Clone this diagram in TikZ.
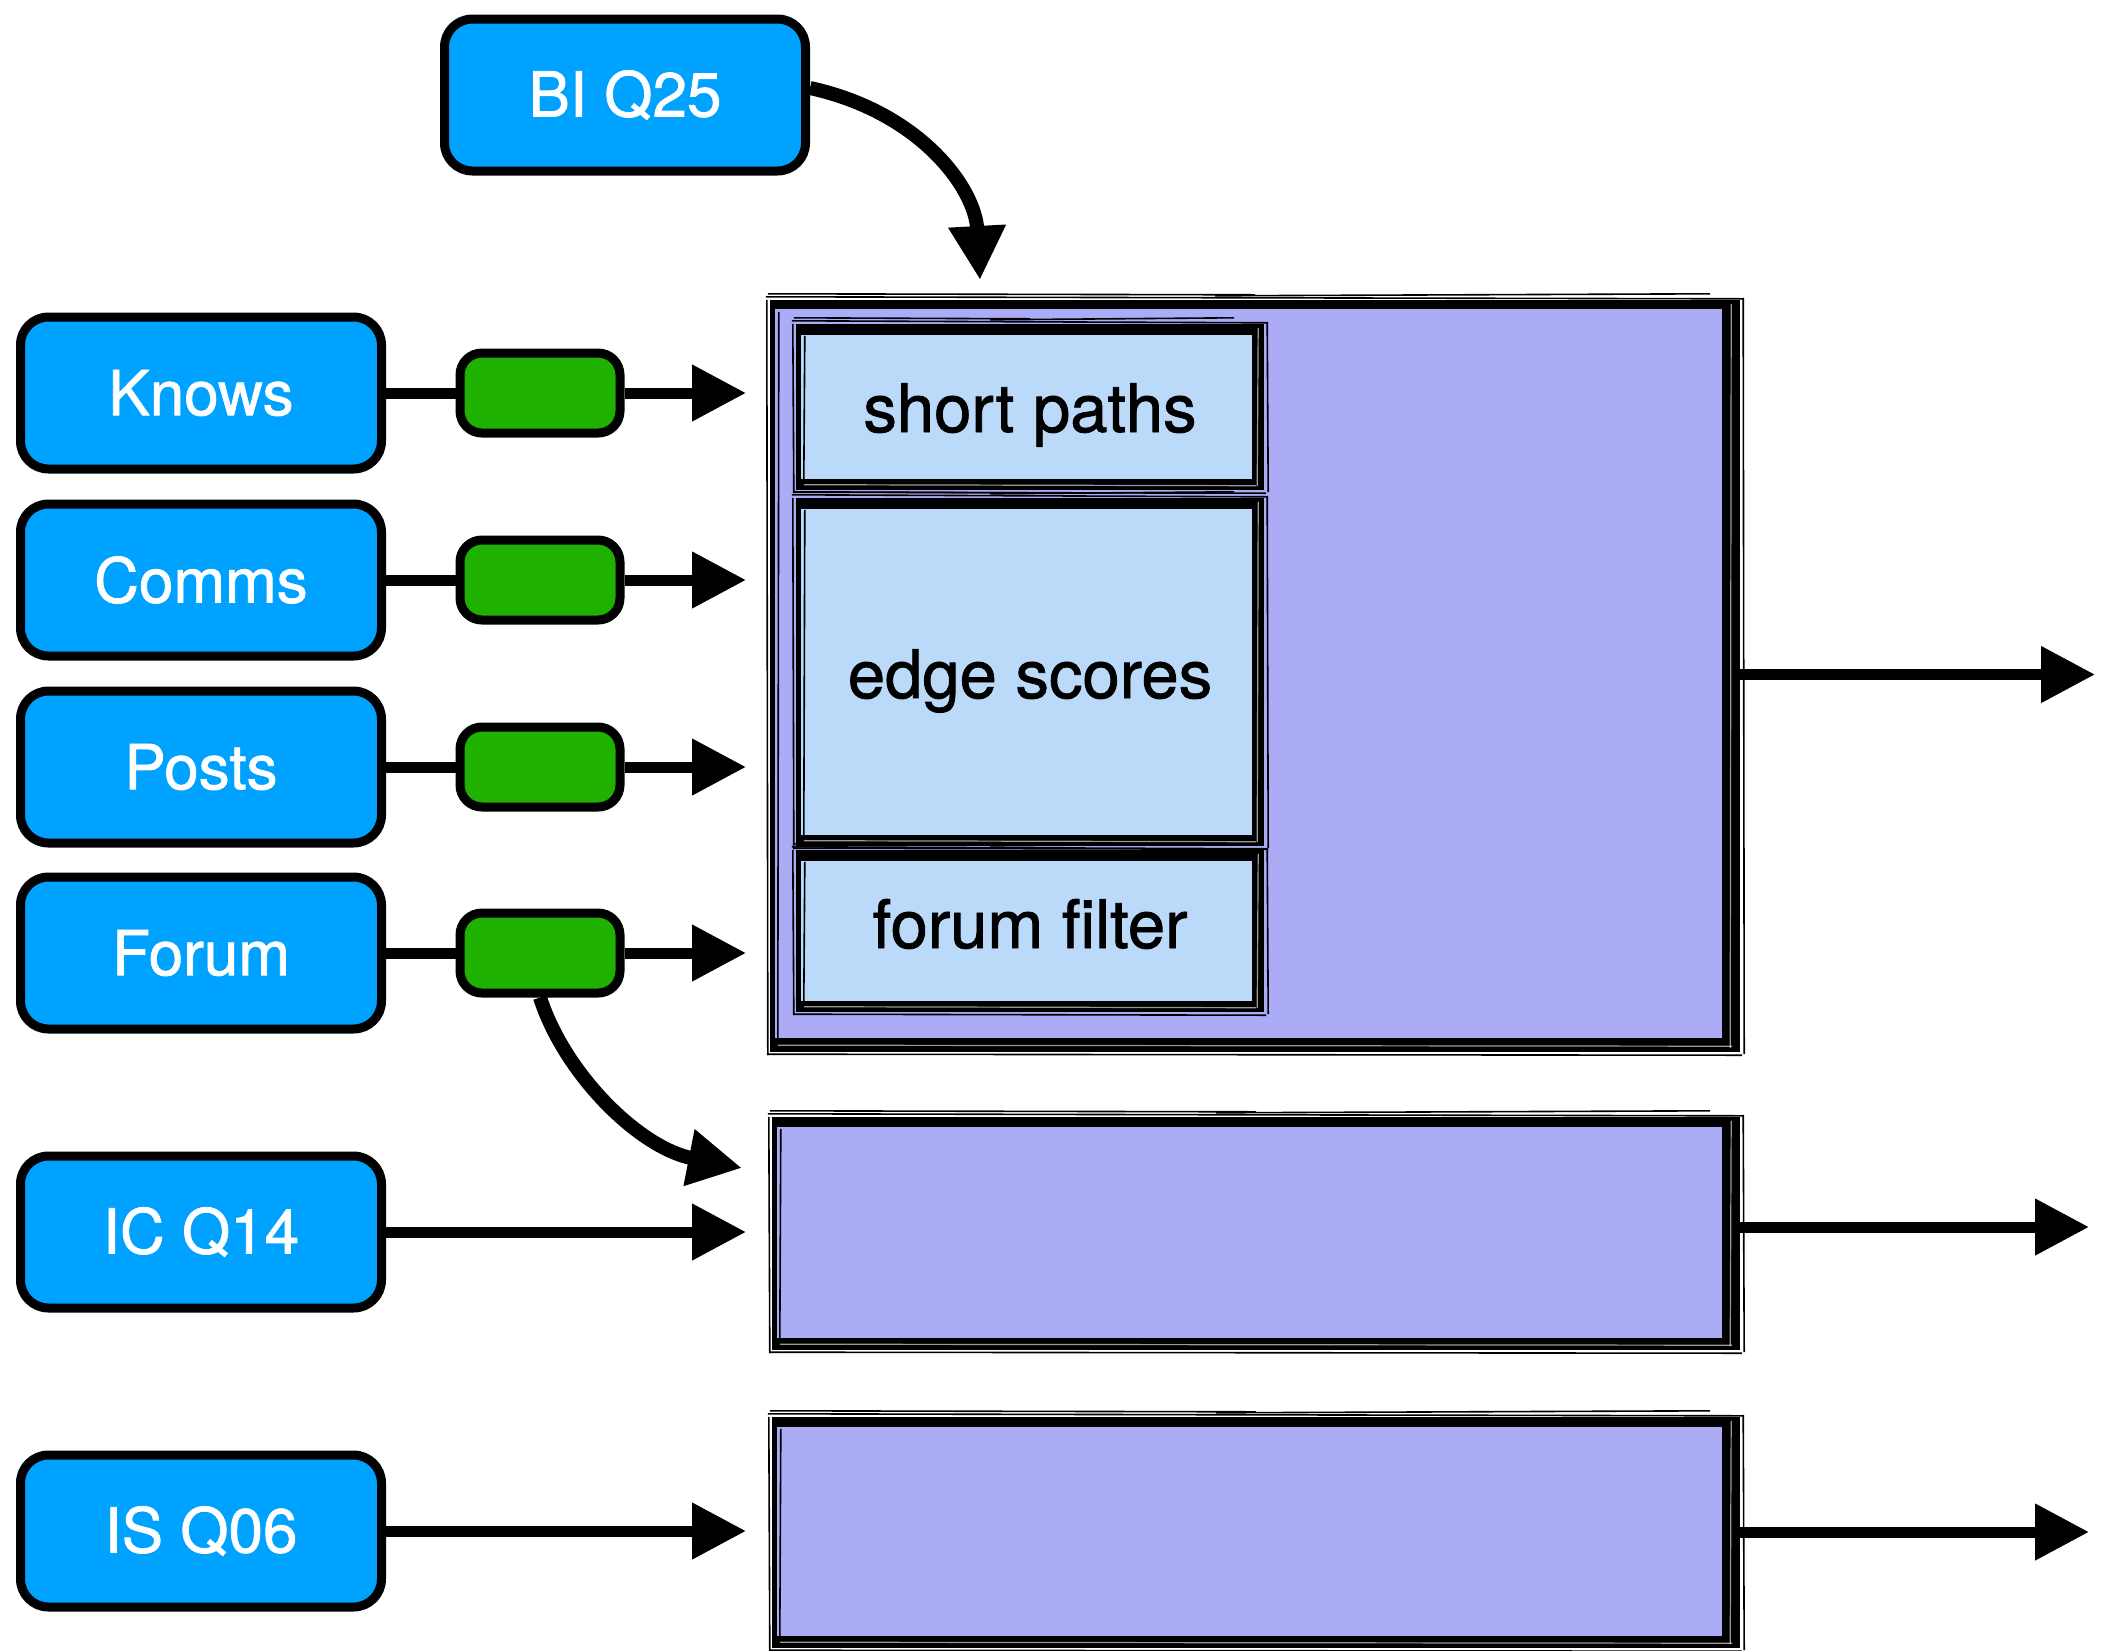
\documentclass[tikz,border=0pt]{standalone}
\usepackage{fontspec}
\setmainfont{TeX Gyre Heros}
\newfontfamily\medfont{TeX Gyre Heros}[FakeBold=1.2]
\usetikzlibrary{arrows.meta,calc}
\definecolor{qblue}{RGB}{0,162,255}
\definecolor{qgreen}{RGB}{30,177,0}
\definecolor{qpurple}{RGB}{171,171,246}
\definecolor{qlight}{RGB}{187,217,248}
\tikzset{
  blueq/.style={rectangle, rounded corners=28pt, draw=black, line width=9pt, fill=qblue,
    text=white, minimum width=361pt, minimum height=152pt, inner sep=0pt,
    font=\medfont\fontsize{62pt}{72pt}\selectfont},
  greenq/.style={rectangle, rounded corners=22pt, draw=black, line width=9pt, fill=qgreen,
    minimum width=160pt, minimum height=80pt, inner sep=0pt},
  bigbox/.style={rectangle, fill=qpurple, draw=none, inner sep=0pt},
  innerbox/.style={rectangle, fill=qlight, draw=none, inner sep=0pt, minimum width=468pt,
    font=\medfont\fontsize{67pt}{78pt}\selectfont},
  conn/.style={line width=11pt, draw=black},
  curveconn/.style={line width=14pt, draw=black},
  tip/.style={-{Triangle[length=54pt,width=54pt]}},
  skline/.style={draw=black, line cap=butt},
  scratch/.style={draw=black, line width=1.6pt},
  whitescratch/.style={draw=white, line width=1.2pt, opacity=0.6},
}
\newcommand\skframe[5]{%
  \draw[skline,line width=#2pt] ($(#1.north west)+(#2/2,0)$) -- ($(#1.south west)+(#2/2,0)$);
  \draw[skline,line width=#3pt] ($(#1.north west)+(0,#3/2)$) -- ($(#1.north east)+(0,#3/2)$);
  \draw[skline,line width=#4pt] ($(#1.north east)+(-#4/2,0)$) -- ($(#1.south east)+(-#4/2,0)$);
  \draw[skline,line width=#5pt] ($(#1.south west)+(0,-#5/2)$) -- ($(#1.south east)+(0,-#5/2)$);
  \draw[scratch] ($(#1.north west)+(-4,-3)$) -- ($(#1.north east)+(3,-1)$);
  \draw[scratch] ($(#1.north west)+(-2,-6)$) -- ($(#1.north)+(0,-5)$);
  \draw[scratch] ($(#1.north)+(-40,-4)$) -- ($(#1.north east)+(-30,-6)$);
  \draw[scratch] ($(#1.south west)+(-3,2)$) -- ($(#1.south east)+(2,3)$);
  \draw[scratch] ($(#1.north east)+(3,-2)$) -- ($(#1.south east)+(4,2)$);
  \draw[scratch] ($(#1.north west)+(-3,0)$) -- ($(#1.south west)+(-2,3)$);
  \draw[scratch] ($(#1.north west)+(#2+4,12)$) -- ($(#1.south west)+(#2+3,-10)$);
  \draw[whitescratch] ($(#1.north east)+(-#4/2,4)$) -- ($(#1.south east)+(-#4/2-1,-4)$);
  \draw[whitescratch] ($(#1.south west)+(8,-#5/2)$) -- ($(#1.south east)+(-8,-#5/2+1)$);
}
\begin{document}
\begin{tikzpicture}[x=1pt,y=-1pt]
\useasboundingbox (0,0) rectangle (2104,1650);

% big boxes
\node[bigbox, minimum width=970pt, minimum height=752pt] (b1) at (1255,676) {};
\node[bigbox, minimum width=968pt, minimum height=233pt] (b2) at (1256,1233.5) {};
\node[bigbox, minimum width=968pt, minimum height=231pt] (b3) at (1256,1532.5) {};
\skframe{b1}{5}{9}{18}{14}
\skframe{b2}{5}{10}{18}{12}
\skframe{b3}{5}{10}{18}{12}

% inner boxes
\node[innerbox, minimum height=166pt, text height=64pt, text depth=14pt] (sp) at (1030,407) {short paths};
\node[innerbox, minimum height=348pt, text height=66pt, text depth=14pt] (es) at (1030,672) {edge scores};
\node[innerbox, minimum height=162pt, text height=48pt, text depth=14pt] (ff) at (1030,931) {forum filter};
\skframe{sp}{5}{11}{12}{11}
\skframe{es}{5}{11}{12}{11}
\skframe{ff}{5}{11}{12}{11}

% blue nodes
\node[blueq] (bi) at (625,95) {BI Q25};
\node[blueq] (knows) at (201,393) {Knows};
\node[blueq] (comms) at (201,580) {Comms};
\node[blueq] (posts) at (201,767) {Posts};
\node[blueq] (forum) at (201,953) {Forum};
\node[blueq] (ic) at (201,1232) {IC Q14};
\node[blueq] (is) at (201,1531) {IS Q06};

% green nodes
\node[greenq] (gk) at (540,393) {};
\node[greenq] (gc) at (540,580) {};
\node[greenq] (gp) at (540,767) {};
\node[greenq] (gf) at (540,953) {};

% tip coordinates
\coordinate (tk) at (746,393);
\coordinate (tc) at (746,580);
\coordinate (tp) at (746,767);
\coordinate (tf) at (746,953);
\coordinate (tic) at (746,1232);
\coordinate (tis) at (746,1531);
\coordinate (tb2) at (742,1168);
\coordinate (tbi) at (980,280);
\coordinate (o1) at (2095,674.5);
\coordinate (o2) at (2089,1227);
\coordinate (o3) at (2089,1532);

% connectors
\draw[conn] (knows) -- (gk);
\draw[conn] (comms) -- (gc);
\draw[conn] (posts) -- (gp);
\draw[conn] (forum) -- (gf);
\draw[conn,tip] (gk) -- (tk);
\draw[conn,tip] (gc) -- (tc);
\draw[conn,tip] (gp) -- (tp);
\draw[conn,tip] (gf) -- (tf);
\draw[conn,tip] (ic) -- (tic);
\draw[conn,tip] (is) -- (tis);
\draw[curveconn,tip] (gf.south) .. controls (565,1075) and (640,1148) .. (tb2);
\draw[curveconn,tip] ($(bi.east)+(0,-7)$) .. controls (920,112) and (975,188) .. (tbi);
\draw[conn,tip] (b1.east |- o1) -- (o1);
\draw[conn,tip] (b2.east |- o2) -- (o2);
\draw[conn,tip] (b3.east |- o3) -- (o3);
\end{tikzpicture}
\end{document}
